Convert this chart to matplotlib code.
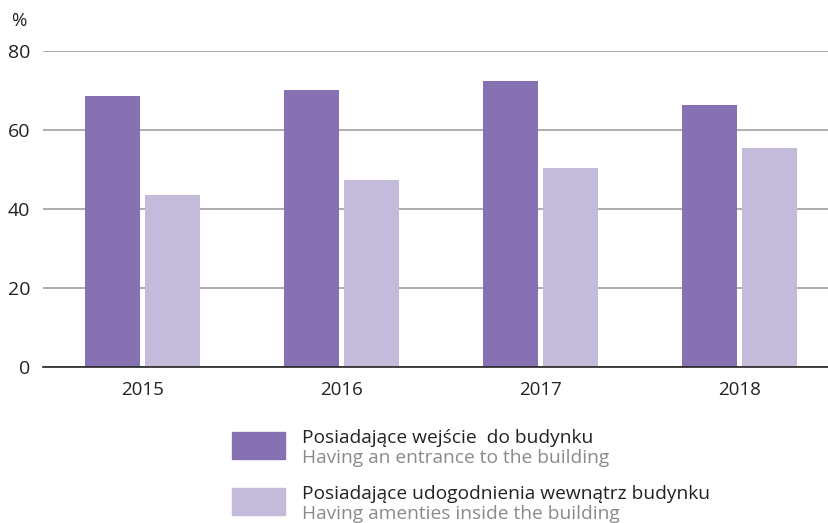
import matplotlib
matplotlib.use('Agg')
import matplotlib.pyplot as plt
from matplotlib.patches import Rectangle
import numpy as np

plt.rcParams['font.family'] = ['Open Sans', 'DejaVu Sans']

years = ['2015', '2016', '2017', '2018']
entrance = [68.5, 70.0, 72.2, 66.3]
amenities = [43.5, 47.3, 50.3, 55.3]

labels_pl = ['Posiadające wejście  do budynku', 'Posiadające udogodnienia wewnątrz budynku']
labels_en = ['Having an entrance to the building', 'Having amenties inside the building']

dark = '#8671b3'
light = '#c4bbdb'

fig = plt.figure(figsize=(8.29, 5.23), dpi=100)
ax = fig.add_axes([43 / 829, 1 - 367 / 523, 1 - 43 / 829, (367 - 50.5) / 523])

x = np.arange(len(years))
w = 0.276
ax.bar(x - 0.151, entrance, width=w, color=dark, zorder=3)
ax.bar(x + 0.151, amenities, width=w, color=light, zorder=3)

ax.set_xlim(-0.5, 3.45)
ax.set_ylim(0, 80)
ax.set_yticks([0, 20, 40, 60, 80])
ax.set_xticks(x)
ax.set_xticklabels(years)
ax.tick_params(axis='y', length=0, pad=9, labelsize=14, labelcolor='#222222')
ax.tick_params(axis='x', length=0, pad=10, labelsize=13.5, labelcolor='#222222')
ax.grid(axis='y', color='#a0a0a0', linewidth=1.2, zorder=0)
for s in ['top', 'right', 'left']:
    ax.spines[s].set_visible(False)
ax.spines['bottom'].set_color('#222222')
ax.spines['bottom'].set_linewidth(1.2)
ax.spines['bottom'].set_zorder(4)

fig.text(11 / 829, 1 - 21 / 523, '%', fontsize=13.5, color='#222222', va='center')

# legend drawn by hand: colour box plus two-language label
for i, (c, pl, en) in enumerate(zip([dark, light], labels_pl, labels_en)):
    top = 432 + i * 56
    fig.add_artist(Rectangle((232 / 829, 1 - (top + 27) / 523), 53 / 829, 27 / 523,
                             transform=fig.transFigure, color=c))
    fig.text(302 / 829, 1 - (top + 6) / 523, pl, fontsize=13.8, color='#222222', va='center')
    fig.text(302 / 829, 1 - (top + 26) / 523, en, fontsize=13.8, color='#8a8a8a', va='center')

fig.savefig('out.png', dpi=100)
